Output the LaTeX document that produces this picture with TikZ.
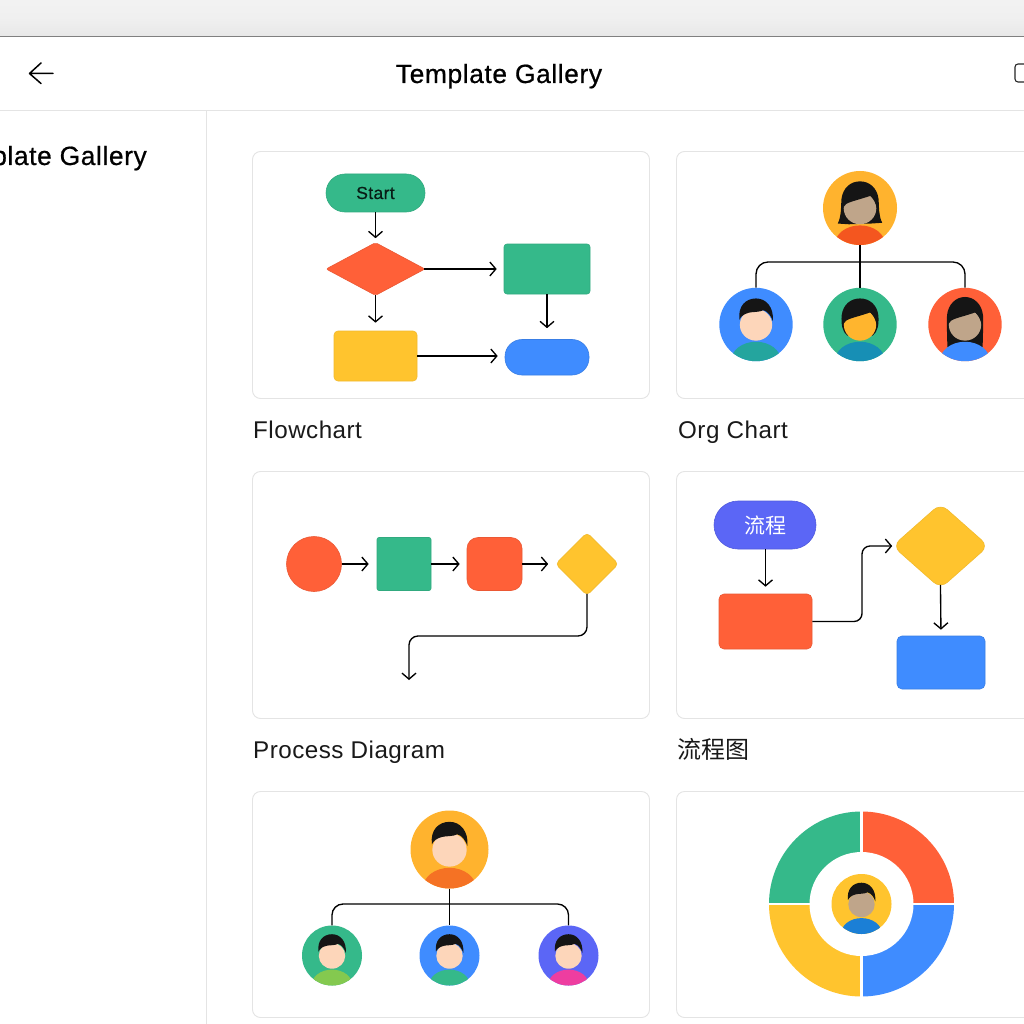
\documentclass[tikz,border=0pt]{standalone}
\usepackage{fontspec}
\usetikzlibrary{arrows.meta,shapes.geometric}
\setmainfont{Liberation Sans}
\newfontfamily\medfont[FakeBold=0.6,LetterSpace=2.2]{Liberation Sans}
\newfontfamily\labelfont[LetterSpace=2]{Liberation Sans}
\newfontfamily\cjk{Noto Sans CJK SC}
\definecolor{cred}{HTML}{FF6038}
\definecolor{cgreen}{HTML}{35B98A}
\definecolor{cyellow}{HTML}{FFC42E}
\definecolor{cblue}{HTML}{3F8CFF}
\definecolor{cpurple}{HTML}{5B66F6}
\definecolor{camber}{HTML}{FFB32E}
\definecolor{hairc}{HTML}{151515}
\definecolor{skina}{HTML}{FDD6BA}
\definecolor{skinb}{HTML}{BFA58A}
\definecolor{skinc}{HTML}{FFB52E}
\definecolor{shirta}{HTML}{F4561F}
\definecolor{shirtb}{HTML}{24A59E}
\definecolor{shirtc}{HTML}{178FB5}
\definecolor{shirtd}{HTML}{F57224}
\definecolor{shirte}{HTML}{84C94F}
\definecolor{shirtf}{HTML}{EE3DA0}
\definecolor{shirtg}{HTML}{1B7FD6}
\definecolor{line}{HTML}{E4E4E4}
\tikzset{
  cardbox/.style={rectangle,draw=line,fill=white,line width=.9pt,rounded corners=8pt,inner sep=0pt},
  conn/.style={draw=black,line width=1.35pt},
  arr/.style={conn,-{Straight Barb[length=6pt,width=14pt,line width=1.35pt]}},
  redbox/.style={rectangle,fill=cred,draw=cred!92!black,line width=.6pt,inner sep=0pt},
  greenbox/.style={rectangle,fill=cgreen,draw=cgreen!92!black,line width=.6pt,inner sep=0pt},
  yellowbox/.style={rectangle,fill=cyellow,draw=cyellow!95!black,line width=.6pt,inner sep=0pt},
  bluebox/.style={rectangle,fill=cblue,draw=cblue!90!black,line width=.6pt,inner sep=0pt},
  purplebox/.style={rectangle,fill=cpurple,draw=cpurple!90!black,line width=.6pt,inner sep=0pt},
  dia/.style={shape=diamond,aspect=1},
  avatarbase/.style={circle,inner sep=0pt},
  gallerylabel/.style={anchor=base west,inner sep=0pt,font=\labelfont\fontsize{24.2}{28}\selectfont,text=black!90},
}
\newcommand\pb[7][]{\node[#7,minimum width={#5-#3},minimum height={#6-#4}] (#2) at ({(#3+#5)/2},{(#4+#6)/2}) {#1};}
% hair pieces, in units of the avatar radius
\newcommand\hairshort{\fill[hairc] (-.45,-.13) .. controls (-.50,-.5) and (-.28,-.71) .. (0,-.71) .. controls (.28,-.71) and (.49,-.47) .. (.46,-.09) .. controls (.42,-.22) and (.32,-.36) .. (.2,-.39) .. controls (.1,-.33) and (-.1,-.35) .. (-.2,-.32) .. controls (-.32,-.29) and (-.42,-.22) .. cycle;}
\newcommand\hairlongback{\fill[hairc] (-.60,.42) .. controls (-.50,.2) and (-.52,0) .. (-.50,-.25) .. controls (-.46,-.55) and (-.25,-.72) .. (0,-.72) .. controls (.25,-.72) and (.46,-.55) .. (.50,-.25) .. controls (.52,0) and (.50,.2) .. (.60,.40) -- (.3,.42) -- (-.3,.44) -- cycle;}
\newcommand\hairslimback{\fill[hairc] (-.48,.62) .. controls (-.49,.2) and (-.50,0) .. (-.49,-.25) .. controls (-.46,-.55) and (-.25,-.75) .. (0,-.75) .. controls (.25,-.75) and (.46,-.55) .. (.49,-.25) .. controls (.50,0) and (.49,.2) .. (.48,.62) -- cycle;}
\newcommand\hairbobback{\fill[hairc] (-.35,.30) .. controls (-.48,.2) and (-.52,0) .. (-.50,-.25) .. controls (-.46,-.55) and (-.25,-.71) .. (0,-.71) .. controls (.25,-.71) and (.46,-.55) .. (.50,-.25) .. controls (.52,0) and (.48,.2) .. (.35,.30) -- cycle;}
\newcommand\hairfringe{\fill[hairc] (-.45,-.02) .. controls (-.40,-.16) and (-.15,-.18) .. (.28,-.33) .. controls (.36,-.25) and (.42,-.15) .. (.45,-.02) .. controls (.48,-.4) and (.25,-.65) .. (0,-.65) .. controls (-.25,-.65) and (-.48,-.4) .. (-.45,-.02) -- cycle;}
% #1 name #2 cx #3 cy #4 r #5 bg #6 shirt #7 skin #8 hair behind #9 hair in front
\newcommand\avatar[9]{%
  \node[avatarbase,fill=#5,minimum size={2*#4}] (#1) at (#2,#3) {};
  \begin{scope}[shift={(#2,#3)},x=#4pt,y=-#4pt]
    #8
    \begin{scope}
      \clip (0,0) circle [radius=1];
      \fill[#6] (0,.99) ellipse [x radius=.68,y radius=.52];
    \end{scope}
    \fill[#7] (0,.01) ellipse [x radius=.44,y radius=.43];
    #9
  \end{scope}}
\begin{document}
\begin{tikzpicture}[x=1pt,y=-1pt]
\useasboundingbox (0,0) rectangle (1024,1024);
\clip (0,0) rectangle (1024,1024);
\fill[white] (0,0) rectangle (1024,1024);
% window chrome
\shade[top color=black!5,bottom color=black!9,middle color=black!6] (0,0) rectangle (1024,36);
\draw[black!50,line width=1pt] (0,36.5) -- (1024,36.5);
\draw[line,line width=1pt] (0,110.5) -- (1024,110.5);
\draw[line,line width=1pt] (206.5,110.5) -- (206.5,1024);
% header
\draw[black,line width=1.5pt,line join=round,line cap=round] (53,73.5) -- (29.5,73.5) (41,63) -- (29.5,73.5) -- (41,83.5);
\node[inner sep=0pt,anchor=base,font=\medfont\fontsize{26.4}{30}\selectfont] (title) at (499,83) {Template Gallery};
\node[rectangle,draw=black!85,line width=1.1pt,rounded corners=3pt,minimum width=30pt,minimum height=18pt,inner sep=0pt] (winbox) at (1030,73) {};
\node[inner sep=0pt,anchor=base east,font=\medfont\fontsize{26.4}{30}\selectfont] (side) at (147,165) {Template Gallery};
% cards
\pb{c1}{252.5}{151.5}{649.5}{398.5}{cardbox}
\pb{c2}{676.5}{151.5}{1073.5}{398.5}{cardbox}
\pb{c3}{252.5}{471.5}{649.5}{718.5}{cardbox}
\pb{c4}{676.5}{471.5}{1073.5}{718.5}{cardbox}
\pb{c5}{252.5}{791.5}{649.5}{1017.5}{cardbox}
\pb{c6}{676.5}{791.5}{1073.5}{1017.5}{cardbox}
\node[gallerylabel] (l1) at (253,438) {Flowchart};
\node[gallerylabel] (l2) at (678,438) {Org Chart};
\node[gallerylabel] (l3) at (253,758) {Process Diagram};
\node[gallerylabel,font=\cjk\fontsize{24}{28}\selectfont] (l4) at (677,758) {流程图};
% flowchart
\pb[{\fontsize{17.5}{20}\medfont\color{black!85!cgreen}Start}]{fs}{326}{174}{425}{212}{greenbox,rounded corners=19pt}
\pb{fd}{326}{242.5}{425}{295.5}{redbox,dia,rounded corners=2pt}
\pb{fg}{504}{244}{590}{294}{greenbox,rounded corners=3pt}
\pb{fy}{334}{331}{417}{381}{yellowbox,rounded corners=4pt}
\pb{fb}{505}{339.5}{589}{375}{bluebox,rounded corners=17pt}
\draw[arr,shorten >=4pt] (fs.south) -- (fd.north);
\draw[arr,shorten >=8pt,shorten <=-1pt] (fd.south) -- (fd.south |- fy.north);
\draw[arr,shorten >=7pt,shorten <=-1pt] (fd.east) -- (fg.west);
\draw[arr,shorten >=11pt] (fg.south) -- (fb.north);
\draw[arr,shorten >=7pt] (fy.east) -- (fy.east -| fb.west);
% org chart
\avatar{ot}{860}{208}{37}{camber}{shirta}{skinb}{\hairlongback}{\hairfringe}
\avatar{oa}{756}{324.5}{36.7}{cblue}{shirtb}{skina}{}{\hairshort}
\avatar{ob}{860}{324.5}{36.7}{cgreen}{shirtc}{skinc}{\hairbobback}{\hairfringe}
\avatar{oc}{965}{324.5}{36.7}{cred}{cblue}{skinb}{\hairslimback}{\hairfringe}
\coordinate (oj) at (860,262);
\draw[conn,rounded corners=12pt] (oa.north) |- (oj) -| (oc.north);
\draw[conn] (ot.south) -- (ob.north);
% process diagram
\node[circle,fill=cred,draw=cred!92!black,line width=.6pt,minimum size=55pt,inner sep=0pt] (pa) at (314,564) {};
\pb{pb}{377}{537.5}{431}{590.5}{greenbox,rounded corners=2pt}
\pb{pc}{467}{537.5}{522}{590.5}{redbox,rounded corners=11pt}
\pb{pd}{555.5}{532.5}{618.5}{595.5}{yellowbox,dia,rounded corners=4pt}
\coordinate (pj) at (409,636);
\coordinate (pe) at (409,680);
\draw[arr,shorten >=8pt] (pa.east) -- (pb.west);
\draw[arr,shorten >=7pt] (pb.east) -- (pc.west);
\draw[arr,shorten >=7pt] (pc.east) -- (pd.west);
\draw[arr,rounded corners=9pt,shorten <=-2pt] (pd.south) |- (pj) -- (pe);
% flow in Chinese
\pb[{\cjk\fontsize{21}{24}\selectfont\color{white}流程}]{qa}{714}{501}{816}{549}{purplebox,rounded corners=24pt}
\pb{qb}{719}{594}{812}{649}{redbox,rounded corners=5pt}
\pb{qc}{892.5}{503.5}{988.5}{588.5}{yellowbox,dia,rounded corners=9pt}
\pb{qd}{897}{636}{985}{689}{bluebox,rounded corners=5pt}
\coordinate (qj) at (862,546);
\draw[arr,shorten >=7pt] (qa.south -| qb.north) -- (qb.north);
\draw[arr,rounded corners=8pt,shorten >=0pt] (qb.east) -| (qj) -- (qc.west);
\draw[arr,shorten >=6pt,shorten <=-4pt] (qc.south) -- (qd.north);
% second org chart
\avatar{rt}{449.5}{849.5}{39}{camber}{shirtd}{skina}{}{\hairshort}
\avatar{ra}{332}{955.5}{30}{cgreen}{shirte}{skina}{}{\hairshort}
\avatar{rb}{449.5}{955.5}{30}{cblue}{cgreen}{skina}{}{\hairshort}
\avatar{rc}{568.5}{955.5}{30}{cpurple}{shirtf}{skina}{}{\hairshort}
\coordinate (rj) at (450,904);
\draw[conn,rounded corners=11pt] (ra.north) |- (rj) -| (rc.north);
\draw[conn] (rt.south) -- (rb.north);
% donut
\begin{scope}[shift={(861.5,904)},y=1pt]
  \fill[cred] (0,0) -- (92.5,0) arc [start angle=0,end angle=90,radius=92.5] -- cycle;
  \fill[cgreen] (0,0) -- (0,92.5) arc [start angle=90,end angle=180,radius=92.5] -- cycle;
  \fill[cyellow] (0,0) -- (-92.5,0) arc [start angle=180,end angle=270,radius=92.5] -- cycle;
  \fill[cblue] (0,0) -- (0,-92.5) arc [start angle=270,end angle=360,radius=92.5] -- cycle;
  \draw[white,line width=2.6pt] (0,-95) -- (0,95) (-95,0) -- (95,0);
  \fill[white] (0,0) circle [radius=52];
\end{scope}
\avatar{da}{861.5}{904}{30}{cyellow}{shirtg}{skinb}{}{\hairshort}
\end{tikzpicture}
\end{document}
